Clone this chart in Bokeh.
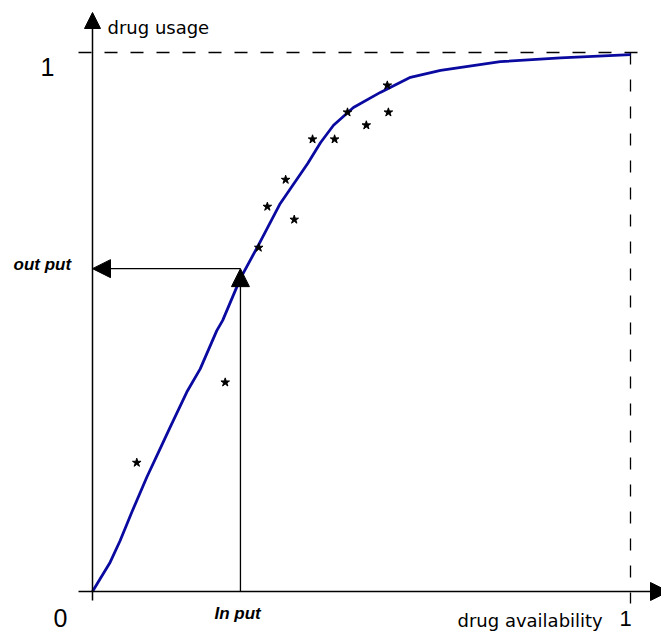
from bokeh.plotting import figure
from bokeh.models import Range1d, Arrow, NormalHead, Label
from bokeh.embed import file_html
from bokeh.resources import INLINE

# ---- data ----
curve_x = [0.0, 0.0143, 0.0329, 0.0515, 0.0730, 0.1009, 0.1258, 0.1444, 0.1753,
           0.2002, 0.231, 0.242, 0.275, 0.307, 0.349, 0.400, 0.424, 0.448, 0.485,
           0.535, 0.591, 0.647, 0.758, 0.870, 1.0]
curve_y = [0.0, 0.0236, 0.0544, 0.0946, 0.147, 0.212, 0.265, 0.305, 0.370,
           0.413, 0.484, 0.503, 0.581, 0.640, 0.720, 0.794, 0.833, 0.865, 0.898,
           0.926, 0.954, 0.967, 0.983, 0.990, 0.996]

obs_x = [0.0823, 0.2467, 0.309, 0.325, 0.359, 0.375, 0.409, 0.450, 0.474, 0.509, 0.548, 0.550]
obs_y = [0.239, 0.388, 0.638, 0.714, 0.764, 0.690, 0.839, 0.839, 0.889, 0.865, 0.939, 0.889]

input_x = 0.275
output_y = 0.599

x_label = "drug availability"
y_label = "drug usage"
input_label = "In put"
output_label = "out put"
tick_zero = "0"
tick_one = "1"

W, H = 661, 634
PX0, PX1 = 92.0, 630.0   # px of x=0, x=1
PY0, PY1 = 591.0, 52.0   # px of y=0, y=1
sx = PX1 - PX0
sy = PY0 - PY1

p = figure(width=W, height=H, output_backend="svg", toolbar_location=None,
           x_range=Range1d((0 - PX0) / sx, (W - PX0) / sx),
           y_range=Range1d((PY0 - H) / sy, PY0 / sy),
           min_border=0)
p.axis.visible = False
p.grid.visible = False
p.outline_line_color = None
p.background_fill_color = "white"
p.border_fill_color = "white"

def dx(px):
    return (px - PX0) / sx

def dy(py):
    return (PY0 - py) / sy

# dashed reference lines at 1
p.line([dx(78), dx(646)], [1, 1], line_color="black", line_width=1.3, line_dash="13 13")
p.line([1, 1], [1, dy(603)], line_color="black", line_width=1.3, line_dash="12 15")

head = dict(size=18, fill_color="black", line_color="black")
# axes with arrow heads
p.add_layout(Arrow(end=NormalHead(size=16, fill_color="black", line_color="black"),
                   x_start=0, y_start=dy(600), x_end=0, y_end=dy(12),
                   line_color="black", line_width=1.5))
p.add_layout(Arrow(end=NormalHead(**head),
                   x_start=dx(78), y_start=0, x_end=dx(668), y_end=0,
                   line_color="black", line_width=1.5))

# input / output arrows
p.add_layout(Arrow(end=NormalHead(**head),
                   x_start=input_x, y_start=0, x_end=input_x, y_end=output_y,
                   line_color="black", line_width=1.3))
p.add_layout(Arrow(end=NormalHead(**head),
                   x_start=input_x, y_start=output_y, x_end=0, y_end=output_y,
                   line_color="black", line_width=1.3))

# curve and observations
p.line(curve_x, curve_y, line_color="#0a0aa0", line_width=2.8)
p.scatter(obs_x, obs_y, marker="star", size=9, fill_color="black", line_color="black")

# labels
p.add_layout(Label(x=dx(107), y=dy(27), text=y_label, text_font="DejaVu Sans",
                   text_font_size="18px", text_baseline="middle", text_align="left",
                   text_color="black"))
p.add_layout(Label(x=dx(457), y=dy(620), text=x_label, text_font="DejaVu Sans",
                   text_font_size="18px", text_baseline="middle", text_align="left",
                   text_color="black"))
p.add_layout(Label(x=dx(47), y=dy(66), text=tick_one, text_font="Liberation Sans",
                   text_font_size="25px", text_baseline="middle", text_align="center",
                   text_color="black"))
p.add_layout(Label(x=dx(60), y=dy(617), text=tick_zero, text_font="Liberation Sans",
                   text_font_size="25px", text_baseline="middle", text_align="center",
                   text_color="black"))
p.add_layout(Label(x=dx(625), y=dy(618), text=tick_one, text_font="Liberation Sans",
                   text_font_size="22px", text_baseline="middle", text_align="center",
                   text_color="black"))
p.add_layout(Label(x=dx(13), y=dy(264), text=output_label, text_font="Liberation Sans",
                   text_font_size="17px", text_font_style="bold italic",
                   text_baseline="middle", text_align="left", text_color="black"))
p.add_layout(Label(x=dx(214), y=dy(613), text=input_label, text_font="Liberation Sans",
                   text_font_size="17px", text_font_style="bold italic",
                   text_baseline="middle", text_align="left", text_color="black"))

open("out.html", "w").write(file_html(p, INLINE))
